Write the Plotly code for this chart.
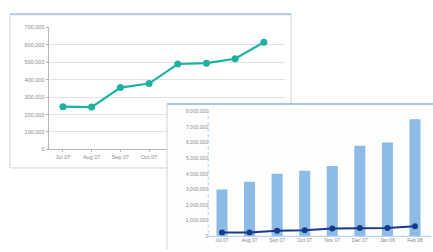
import plotly.graph_objects as go

months = ["Jul 07", "Aug 07", "Sep 07", "Oct 07", "Nov 07", "Dec 07", "Jan 08", "Feb 08"]
back_values = [245000, 243000, 355000, 378000, 490000, 495000, 520000, 615000]
bar_values = [3000000, 3500000, 4000000, 4200000, 4500000, 5800000, 6000000, 7500000]
line_values = [240000, 250000, 360000, 390000, 500000, 540000, 540000, 640000]
back_visible_ticks = months[:4]

W, H = 433, 252
def px(x):
    return x / W
def py(y):
    return 1 - y / H

fig = go.Figure()

fig.add_trace(go.Scatter(
    x=months, y=back_values, mode="lines+markers",
    line=dict(color="rgb(28,178,160)", width=2.2),
    marker=dict(size=7, color="rgb(28,178,160)"),
    xaxis="x", yaxis="y", cliponaxis=False, showlegend=False))

fig.add_trace(go.Bar(
    x=months, y=bar_values, width=0.4,
    marker=dict(color="rgb(140,187,230)", line=dict(width=0)),
    xaxis="x2", yaxis="y2", showlegend=False))

fig.add_trace(go.Scatter(
    x=months, y=line_values, mode="lines+markers",
    line=dict(color="rgb(24,58,140)", width=2),
    marker=dict(size=6, color="rgb(24,58,140)"),
    xaxis="x2", yaxis="y2", cliponaxis=False, showlegend=False))

tickfont = dict(family="Liberation Sans", size=5.5, color="#8a8a8a")

# back chart spacing
s1 = 28.7
x1_left = 48.6
fig.update_layout(
    width=W, height=H, autosize=False,
    margin=dict(l=0, r=0, t=0, b=0),
    paper_bgcolor="white", plot_bgcolor="#fefefe",
    xaxis=dict(domain=[px(x1_left), px(x1_left + 8.25 * s1)], range=[-0.5, 7.75],
               type="category", showgrid=False, showline=True, linecolor="#b8b8b8",
               linewidth=1, ticks="outside", ticklen=2, tickcolor="#b8b8b8",
               tickmode="array", tickvals=back_visible_ticks,
               tickfont=tickfont, anchor="y", fixedrange=True),
    yaxis=dict(domain=[py(150), py(25)], range=[0, 700000], dtick=100000,
               tickformat=",d", showgrid=True, gridcolor="#e2e2e2", gridwidth=1,
               showline=True, linecolor="#b8b8b8", ticks="outside", ticklen=2,
               tickcolor="#b8b8b8", zeroline=False, tickfont=tickfont, anchor="x",
               fixedrange=True),
)

# front chart: domain = card area, axes placed free at the plot edge
s2 = 27.57
x2_axis = 208.2
card_l, card_t = 167, 103
y2_zero, y2_px_per_m = 239, 16.0
fig.update_layout(
    xaxis2=dict(domain=[px(card_l), 1],
                range=[-0.5 - (x2_axis - card_l) / s2, -0.5 + (W - x2_axis) / s2],
                type="category", showgrid=False, showline=False, ticks="",
                tickfont=dict(family="Liberation Sans", size=5, color="#8a8a8a"),
                anchor="free", position=py(y2_zero), fixedrange=True),
    yaxis2=dict(domain=[0, py(card_t)],
                range=[-(H - y2_zero) / y2_px_per_m * 1e6, (y2_zero - card_t) / y2_px_per_m * 1e6],
                dtick=1000000, tickformat=",d", showgrid=False, showline=False,
                zeroline=False, ticks="",
                tickfont=dict(family="Liberation Sans", size=5, color="#8a8a8a"),
                anchor="free", position=px(x2_axis), fixedrange=True),
)

shapes = [
    # back card
    dict(type="rect", xref="paper", yref="paper", x0=px(10), x1=px(291), y0=py(169), y1=py(11),
         fillcolor="white", line=dict(color="#d4d4d4", width=1), layer="below"),
    dict(type="line", xref="paper", yref="paper", x0=px(10), x1=px(291), y0=py(11.5), y1=py(11.5),
         line=dict(color="rgb(178,206,238)", width=2), layer="below"),
    # front card borders
    dict(type="line", xref="paper", yref="paper", x0=px(167), x1=px(433), y0=py(103.5), y1=py(103.5),
         line=dict(color="rgb(165,198,236)", width=2), layer="above"),
    dict(type="line", xref="paper", yref="paper", x0=px(167), x1=px(167), y0=py(103), y1=py(252),
         line=dict(color="#d0d0d0", width=1), layer="above"),
    # front axis lines
    dict(type="line", xref="paper", yref="paper", x0=px(x2_axis), x1=px(x2_axis), y0=py(110), y1=py(y2_zero),
         line=dict(color="rgb(170,205,235)", width=1, dash="dot"), layer="above"),
    dict(type="line", xref="paper", yref="paper", x0=px(x2_axis), x1=px(431), y0=py(y2_zero), y1=py(y2_zero),
         line=dict(color="rgb(170,205,235)", width=1), layer="above"),
]
fig.update_layout(shapes=shapes)

fig.write_html("out.html",
               config={"displayModeBar": False, "staticPlot": True},
               post_script="document.body.style.margin='0';document.body.style.overflow='hidden';")
